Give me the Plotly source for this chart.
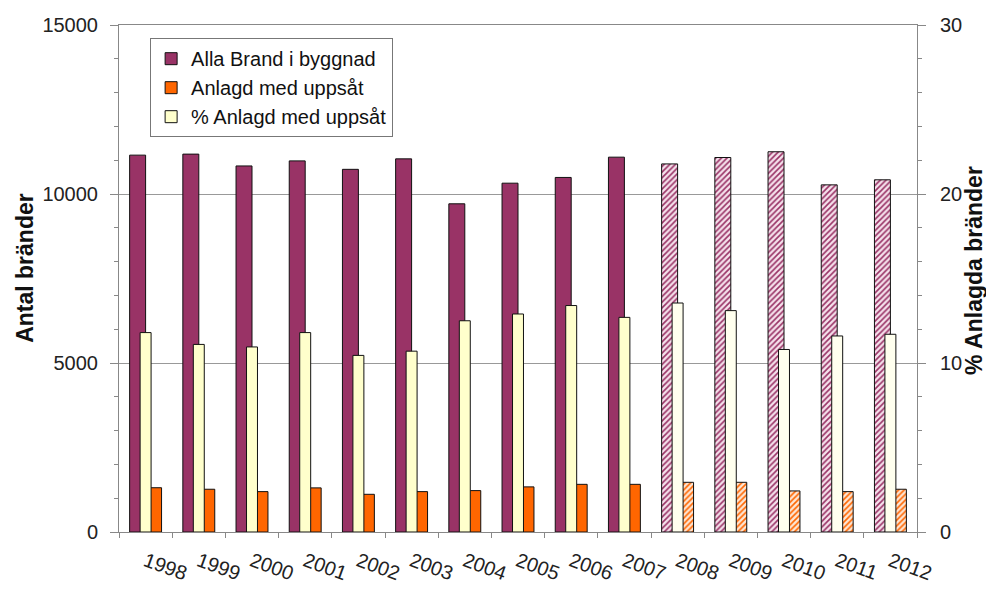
import plotly.graph_objects as go

years = ["1998", "1999", "2000", "2001", "2002", "2003", "2004", "2005",
         "2006", "2007", "2008", "2009", "2010", "2011", "2012"]
alla_brand = [11150, 11180, 10830, 10980, 10730, 11040, 9710, 10320,
              10490, 11090, 10890, 11080, 11250, 10270, 10420]
anlagd = [1310, 1265, 1195, 1305, 1115, 1195, 1225, 1335,
          1410, 1410, 1470, 1470, 1215, 1195, 1265]
pct_anlagd = [11.8, 11.1, 10.95, 11.8, 10.45, 10.7, 12.5, 12.9,
              13.4, 12.7, 13.55, 13.1, 10.8, 11.6, 11.7]
estimated = [False] * 10 + [True] * 5

PURPLE = "#993366"
ORANGE = "#FF6600"
YELLOW = "#FFFFCC"
FONT = "Liberation Sans, Arial, sans-serif"

fig = go.Figure()

fig.add_trace(go.Bar(
    x=years, y=alla_brand, name="Alla Brand i byggnad",
    offset=-0.3, width=0.3,
    marker=dict(
        color=PURPLE,
        line=dict(color="#111111", width=1),
        pattern=dict(
            shape=["/" if e else "" for e in estimated],
            fgcolor=PURPLE,
            bgcolor=["#f5e1ec" if e else PURPLE for e in estimated],
            size=4, solidity=0.4, fillmode="replace"),
    ),
    yaxis="y",
))

fig.add_trace(go.Bar(
    x=years, y=anlagd, name="Anlagd med uppsåt",
    offset=0.0, width=0.3,
    marker=dict(
        color=ORANGE,
        line=dict(color="#111111", width=1),
        pattern=dict(
            shape=["/" if e else "" for e in estimated],
            fgcolor=ORANGE,
            bgcolor=["#fde6d4" if e else ORANGE for e in estimated],
            size=4, solidity=0.4, fillmode="replace"),
    ),
    yaxis="y",
))

fig.add_trace(go.Bar(
    x=years, y=pct_anlagd, name="% Anlagd med uppsåt",
    offset=-0.103, width=0.206,
    marker=dict(
        color=["#FFFFEE" if e else YELLOW for e in estimated],
        line=dict(color="#111111", width=1),
    ),
    yaxis="y2",
))

fig.update_layout(
    width=986, height=590,
    margin=dict(l=119, r=69, t=25, b=58),
    paper_bgcolor="white", plot_bgcolor="white",
    barmode="overlay",
    font=dict(family=FONT, size=20, color="#222222"),
    showlegend=True,
    legend=dict(
        x=0.039, y=0.974, xanchor="left", yanchor="top",
        bgcolor="white", bordercolor="#777777", borderwidth=1,
        font=dict(family=FONT, size=20, color="#111111"),
        traceorder="normal", tracegroupgap=0,
    ),
    xaxis=dict(
        type="category", automargin=False,
        showline=True, mirror=True, linecolor="#888888", linewidth=1,
        ticks="outside", tickson="boundaries", ticklen=5, tickcolor="#888888",
        tickangle=20, ticklabelstandoff=9,
        tickfont=dict(family=FONT, size=20, color="#222222"),
        showgrid=False,
        range=[-0.5, 14.5],
    ),
    yaxis=dict(
        range=[0, 15000], dtick=5000, tickformat="d", automargin=False,
        showline=True, linecolor="#888888", linewidth=1,
        ticks="outside", ticklen=8, tickcolor="#888888",
        minor=dict(dtick=1000, ticks="outside", ticklen=4, tickcolor="#888888", showgrid=False),
        showgrid=True, gridcolor="#999999", gridwidth=1,
        zeroline=False, ticklabelstandoff=8,
        tickfont=dict(family=FONT, size=20, color="#222222"),
    ),
    yaxis2=dict(
        range=[0, 30], dtick=10, automargin=False,
        overlaying="y", side="right",
        showline=True, linecolor="#888888", linewidth=1,
        ticks="outside", ticklen=8, tickcolor="#888888",
        minor=dict(dtick=2, ticks="outside", ticklen=4, tickcolor="#888888", showgrid=False),
        showgrid=False, zeroline=False, ticklabelstandoff=10,
        tickfont=dict(family=FONT, size=20, color="#222222"),
    ),
    annotations=[
        dict(text="<b>Antal bränder</b>", textangle=-90, showarrow=False,
             xref="paper", yref="paper", x=0, y=0.521, xanchor="center", yanchor="middle",
             xshift=-94, font=dict(family=FONT, size=23, color="#111111")),
        dict(text="<b>% Anlagda bränder</b>", textangle=-90, showarrow=False,
             xref="paper", yref="paper", x=1, y=0.515, xanchor="center", yanchor="middle",
             xshift=57, font=dict(family=FONT, size=23, color="#111111")),
    ],
)

fig.write_html("out.html")
